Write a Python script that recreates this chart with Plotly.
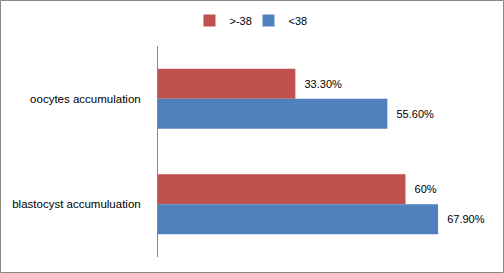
import plotly.graph_objects as go

categories = ["oocytes accumulation", "blastocyst accumuluation"]
series_names = [">-38", "<38"]
values_gt = [0.333, 0.60]
values_lt = [0.556, 0.679]
labels_gt = ["33.30%", "60%"]
labels_lt = ["55.60%", "67.90%"]
colors = ["#C0504D", "#4F81BD"]

W, H = 504, 273
ml, mr, mt, mb = 158, 16, 46, 16

fig = go.Figure()
for name, vals, labs, col in [(series_names[0], values_gt, labels_gt, colors[0]),
                              (series_names[1], values_lt, labels_lt, colors[1])]:
    fig.add_trace(go.Bar(
        y=categories, x=vals, name=name, orientation="h",
        marker=dict(color=col, line=dict(width=0)),
        text=["\u00a0\u00a0" + l for l in labs], textposition="outside",
        textfont=dict(family="Liberation Sans, Arial", size=11, color="#000000"),
        cliponaxis=False,
    ))

pw = W - ml - mr
ph = H - mt - mb
fig.add_shape(type="rect", xref="paper", yref="paper",
              x0=(0.5 - ml) / pw, x1=(W - 0.5 - ml) / pw,
              y0=-(mb - 0.5) / ph, y1=1 + (mt - 0.5) / ph,
              line=dict(color="#868686", width=1), layer="below")

fig.update_layout(
    width=W, height=H,
    margin=dict(l=ml, r=mr, t=mt, b=mb),
    paper_bgcolor="white", plot_bgcolor="white",
    barmode="group", bargap=0.43, bargroupgap=0,
    font=dict(family="Liberation Sans, Arial", size=11, color="#000000"),
    showlegend=True,
    legend=dict(orientation="h", xref="container", yref="container",
                x=0.493, xanchor="center", y=0.925, yanchor="middle",
                font=dict(size=11), traceorder="normal",
                itemwidth=30, entrywidth=14, tracegroupgap=0),
    xaxis=dict(range=[0, 0.8], visible=False, showgrid=False, zeroline=False),
    yaxis=dict(autorange="reversed", showline=True, linecolor="#868686", linewidth=1,
               showgrid=False, ticks="", ticklabelstandoff=14,
               tickfont=dict(size=11.5)),
)

fig.write_html("out.html")
